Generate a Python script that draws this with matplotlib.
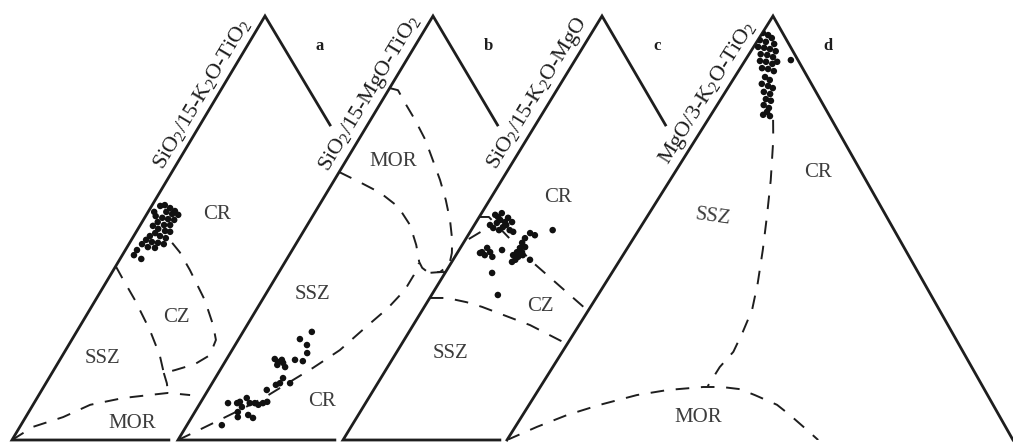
import numpy as np
import matplotlib.pyplot as plt
from matplotlib.patches import Polygon

plt.rcParams["font.family"] = "Liberation Serif"
plt.rcParams["mathtext.fontset"] = "custom"
plt.rcParams["mathtext.rm"] = "Liberation Serif"
plt.rcParams["mathtext.default"] = "regular"

INK = "#1e1e1e"
GREY = "#3c3c3c"

# ---- data: ternary positions as (top %, right %), left = 100 - top - right ----
panels = ["a", "b", "c", "d"]
axis_titles = ["SiO$_2$/15-K$_2$O-TiO$_2$", "SiO$_2$/15-MgO-TiO$_2$",
               "SiO$_2$/15-K$_2$O-MgO", "MgO/3-K$_2$O-TiO$_2$"]

a_samples_top = [55.2, 55.4, 54.7, 54.0, 53.1, 53.3, 53.8, 53.8, 52.8, 52.4, 52.1,
                 51.9, 50.7, 50.7, 51.4, 50.5, 49.8, 49.3, 49.1, 48.8, 48.1, 48.1,
                 47.6, 47.2, 46.7, 46.5, 46.2, 46.2, 45.5, 45.3, 44.8, 43.6, 42.7]
a_samples_right = [1.7, 2.5, 3.9, 5.2, 6.3, 5.0, 3.6, 1.2, 2.0, 3.5, 4.8,
                   6.1, 5.9, 4.7, 3.1, 2.6, 4.0, 5.6, 6.7, 3.9, 3.2, 5.2,
                   6.6, 2.9, 4.3, 5.6, 6.9, 2.6, 4.1, 5.6, 2.3, 2.3, 4.2]

b_samples_top = [25.5, 23.8, 22.4, 20.5, 18.6, 18.9, 19.1, 18.4, 18.9, 18.2, 17.7,
                 17.2, 14.6, 13.4, 13.4, 13.0, 11.8, 8.7, 8.7, 9.0, 9.9, 8.7,
                 8.7, 8.3, 8.7, 9.0, 7.8, 6.6, 5.4, 5.9, 5.2, 3.5]
b_samples_right = [13.6, 12.1, 14.2, 15.2, 15.3, 13.6, 9.5, 10.5, 11.0, 11.6, 10.7,
                   12.5, 13.4, 13.4, 15.4, 12.8, 11.6, 5.5, 7.3, 7.7, 8.6, 9.8,
                   10.8, 11.7, 12.4, 13.1, 8.7, 8.5, 9.1, 10.9, 12.2, 6.9]

c_samples_top = [53.1, 53.5, 52.4, 51.4, 51.2, 50.7, 50.2, 49.5, 50.0, 51.9, 51.4,
                 49.1, 52.6, 50.7, 49.5, 49.5, 48.8, 48.3, 47.6, 46.5, 45.5, 45.3,
                 44.3, 44.3, 43.6, 43.2, 43.6, 42.5, 42.0, 42.5, 44.3, 45.3, 44.3,
                 43.6, 43.2, 44.8, 44.1, 39.4, 34.2]
c_samples_right = [2.9, 4.0, 5.8, 7.1, 4.2, 3.1, 5.9, 7.6, 4.1, 4.5, 5.7,
                   8.5, 3.7, 6.3, 5.5, 16.1, 12.0, 13.2, 11.6, 11.6, 12.7, 11.8,
                   11.7, 12.7, 11.3, 12.5, 13.2, 12.3, 11.9, 15.2, 4.8, 5.3, 6.4,
                   5.7, 7.4, 8.5, 4.5, 9.3, 13.1]

d_samples_top = [96.0, 95.5, 94.8, 94.3, 93.9, 93.4, 92.7, 92.5, 92.2, 91.7, 91.0,
                 90.8, 90.3, 89.4, 89.2, 88.7, 89.2, 87.7, 87.5, 87.0, 85.6, 84.9,
                 84.0, 83.5, 83.0, 82.1, 81.6, 80.4, 80.0, 79.0, 78.3, 77.4, 76.7,
                 76.4, 89.6]
d_samples_right = [0.1, 1.4, 2.5, 0.4, 1.8, 3.7, 0.9, 2.2, 3.5, 4.9, 2.3,
                   3.7, 5.1, 3.0, 4.3, 5.8, 6.5, 4.3, 5.6, 7.0, 6.0, 7.3,
                   6.2, 7.7, 8.9, 7.6, 9.1, 8.9, 10.1, 9.2, 10.6, 10.7, 10.3,
                   11.8, 9.0]

# field boundaries (top %, right %)
a_cz_top = [41.0, 38.4, 33.0, 25.9, 20.0, 15.8, 16.5, 17.9, 20.0, 23.6, 27.1, 33.0, 40.1, 44.3, 46.5]
a_cz_right = [0.0, 2.5, 7.8, 14.3, 19.2, 22.1, 24.0, 27.2, 29.1, 28.5, 26.2, 21.6, 15.1, 11.0, 8.4]
a_link_top = [15.8, 13.4, 11.1]
a_link_right = [22.1, 23.9, 25.3]
a_mor_top = [0.0, 3.1, 5.4, 8.3, 9.9, 10.8, 11.1, 10.6]
a_mor_right = [0.0, 2.6, 7.4, 11.3, 17.0, 23.2, 25.3, 29.9]

b_ssz_top = [0.0, 1.9, 4.2, 7.1, 10.1, 13.7, 17.0, 21.2, 26.4, 31.1, 35.4, 38.9, 41.7]
b_ssz_right = [0.0, 2.4, 5.2, 8.7, 12.1, 15.2, 18.1, 21.3, 23.6, 25.8, 27.0, 27.0, 26.6]
b_mor_outer_top = [83.0, 82.5, 79.5, 75.5, 70.8, 66.0, 61.3, 56.6, 51.9, 47.2, 44.1, 41.3, 39.6, 39.4]
b_mor_outer_right = [0.0, 1.9, 4.8, 8.8, 13.2, 17.1, 20.9, 24.4, 27.6, 30.4, 31.9, 32.8, 31.8, 29.6]
b_mor_inner_top = [63.2, 60.8, 58.3, 55.0, 50.7, 46.0, 42.0, 40.6, 39.6, 39.6]
b_mor_inner_right = [0.0, 5.3, 10.6, 15.8, 20.3, 23.9, 26.5, 27.8, 29.4, 34.0]

c_upper_top = [52.6, 52.6, 42.0, 30.0]
c_upper_right = [0.0, 1.9, 15.9, 33.5]
c_short_top = [47.4, 50.0]
c_short_right = [0.6, 2.9]
c_lower_top = [33.5, 33.5, 32.5, 31.4, 27.1, 21.7]
c_lower_right = [0.0, 3.4, 7.8, 11.4, 23.1, 34.7]

d_ssz_top = [75.5, 70.8, 61.3, 52.6, 44.8, 37.0, 30.7, 25.5, 20.8, 17.2, 12.7]
d_ssz_right = [12.9, 15.4, 19.9, 23.7, 27.0, 30.1, 32.3, 33.2, 33.8, 33.0, 33.0]
d_mor_top = [0.0, 3.1, 5.9, 8.3, 10.6, 11.8, 12.5, 12.5, 12.0, 10.6, 8.3, 5.9, 2.4, 0.0]
d_mor_right = [0.0, 4.3, 8.8, 14.0, 20.1, 25.6, 32.2, 35.9, 39.7, 43.4, 49.0, 52.8, 58.0, 61.5]

# field names: (panel, text, top %, right %)
field_names = [
    ("a", "CR", 53.1, 14.0), ("a", "CZ", 29.0, 17.9), ("a", "SSZ", 19.3, 8.3), ("a", "MOR", 4.0, 21.7),
    ("b", "MOR", 65.6, 9.4), ("b", "SSZ", 34.2, 9.4), ("b", "CR", 9.0, 23.9),
    ("c", "CR", 57.3, 13.2), ("c", "CZ", 31.4, 22.9), ("c", "SSZ", 20.5, 10.7),
    ("d", "CR", 63.2, 28.2), ("d", "SSZ", 52.6, 13.1), ("d", "MOR", 5.2, 35.0),
]

samples = {
    "a": (a_samples_top, a_samples_right),
    "b": (b_samples_top, b_samples_right),
    "c": (c_samples_top, c_samples_right),
    "d": (d_samples_top, d_samples_right),
}
boundaries = {
    "a": [(a_cz_top, a_cz_right), (a_link_top, a_link_right), (a_mor_top, a_mor_right)],
    "b": [(b_ssz_top, b_ssz_right), (b_mor_outer_top, b_mor_outer_right),
          (b_mor_inner_top, b_mor_inner_right)],
    "c": [(c_upper_top, c_upper_right), (c_short_top, c_short_right),
          (c_lower_top, c_lower_right)],
    "d": [(d_ssz_top, d_ssz_right), (d_mor_top, d_mor_right)],
}

# ---- layout of the four overlapping triangles (figure pixels) ----
BASE_Y = 440
HEIGHT = 424
WIDTH = 506
LEFT_X = {"a": 12, "b": 178, "c": 343, "d": 507}
APEX_DX = {"a": 253, "b": 255, "c": 259, "d": 266}


def tern(panel, top, right):
    top = np.asarray(top, dtype=float) / 100
    right = np.asarray(right, dtype=float) / 100
    x = LEFT_X[panel] + right * WIDTH + top * APEX_DX[panel]
    y = BASE_Y - top * HEIGHT
    return x, y


def corners(panel):
    lx = LEFT_X[panel]
    return (np.array([lx, BASE_Y], float),
            np.array([lx + APEX_DX[panel], BASE_Y - HEIGHT], float),
            np.array([lx + WIDTH, BASE_Y], float))


def clip_region(panel, nxt):
    left, apex, right = corners(panel)
    if nxt is None:
        return [left, apex, right]
    nleft, napex, _ = corners(nxt)
    # where this triangle's right side meets the next triangle's left side
    m = np.column_stack([right - apex, -(napex - nleft)])
    s, _ = np.linalg.solve(m, nleft - apex)
    cross = apex + s * (right - apex)
    return [left, apex, cross, nleft]


fig = plt.figure(figsize=(10.13, 4.43), dpi=100)
ax = fig.add_axes([0, 0, 1, 1])
ax.set_xlim(0, 1013)
ax.set_ylim(443, 0)
ax.axis("off")

for i, (panel, title) in enumerate(zip(panels, axis_titles)):
    nxt = panels[i + 1] if i + 1 < len(panels) else None
    left, apex, right = corners(panel)

    # frame: full left side, the rest cut short where the next triangle starts
    if nxt is None:
        fx, fy = tern(panel, [0, 100, 0], [0, 0, 100])
    else:
        fx, fy = tern(panel, [74.3, 100, 0, 0], [25.7, 0, 0, 31])
    ax.plot(fx, fy, color=INK, lw=2.0, solid_joinstyle="miter", zorder=3)

    clip = Polygon(clip_region(panel, nxt), closed=True, transform=ax.transData,
                   facecolor="none", edgecolor="none")
    ax.add_patch(clip)

    for top, rt in boundaries[panel]:
        bx, by = tern(panel, top, rt)
        (ln,) = ax.plot(bx, by, color=INK, lw=1.4, dashes=(7, 6), zorder=2)
        ln.set_clip_path(clip)

    sx, sy = tern(panel, *samples[panel])
    pts = ax.scatter(sx, sy, s=22, color="#111111", edgecolors="none", zorder=4)
    pts.set_clip_path(clip)

    # axis title along the left side
    edge = apex - left
    ang = np.degrees(np.arctan2(-edge[1], edge[0]))
    normal = np.array([-HEIGHT, -APEX_DX[panel]], float)
    normal /= np.linalg.norm(normal)
    pos = left + 0.80 * edge + 14 * normal
    ax.text(pos[0], pos[1], title, rotation=ang, rotation_mode="anchor",
            ha="center", va="center", fontsize=16, color=INK)

    ax.text(apex[0] + 55, apex[1] + 30, panel, fontsize=12, fontweight="bold",
            color=INK, ha="center", va="center")

for panel, name, top, rt in field_names:
    tx, ty = tern(panel, top, rt)
    rot = -8 if (panel == "d" and name == "SSZ") else 0
    ax.text(tx, ty, name, fontsize=15, color=GREY, ha="center", va="center",
            rotation=rot)

fig.savefig("out.png", dpi=100, facecolor="white")
